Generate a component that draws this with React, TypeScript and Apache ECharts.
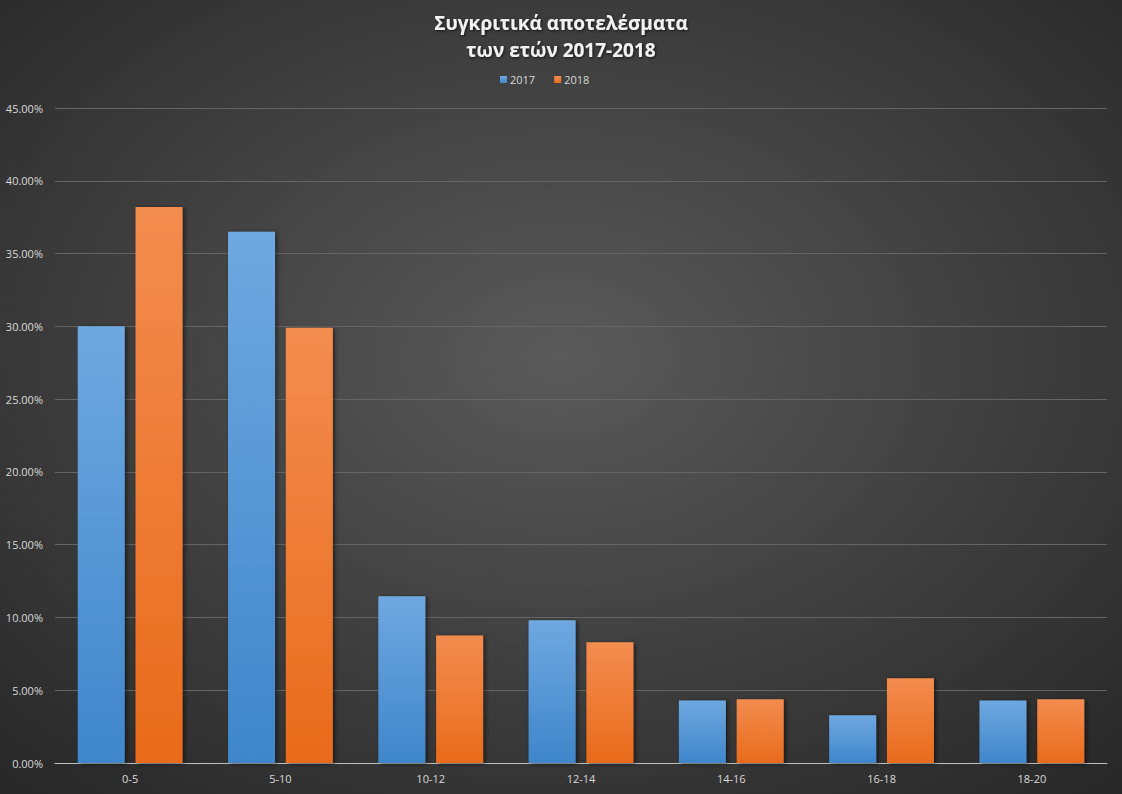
import React, { useEffect, useRef } from "react";
import * as echarts from "echarts";

const categories = ["0-5", "5-10", "10-12", "12-14", "14-16", "16-18", "18-20"];
const series2017 = [30.0, 36.5, 11.45, 9.8, 4.3, 3.28, 4.3];
const series2018 = [38.2, 29.9, 8.76, 8.3, 4.38, 5.82, 4.38];
const yTicks = { min: 0, max: 45, interval: 5 };

const FONT = "'Open Sans', 'Noto Sans', sans-serif";

export default function App() {
  const ref = useRef<HTMLDivElement>(null);
  useEffect(() => {
    if (!ref.current) return;
    const chart = echarts.init(ref.current, undefined, { renderer: "svg" });
    const barShadow = {
      shadowColor: "rgba(0,0,0,0.55)",
      shadowBlur: 4,
      shadowOffsetX: 2,
      shadowOffsetY: 1,
    };
    chart.setOption({
      animation: false,
      backgroundColor: {
        type: "radial",
        x: 0.5,
        y: 0.45,
        r: 0.75,
        colorStops: [
          { offset: 0, color: "#5a5a5a" },
          { offset: 1, color: "#262626" },
        ],
      },
      title: {
        text: "Συγκριτικά αποτελέσματα\nτων ετών 2017-2018",
        left: "center",
        top: 4,
        textStyle: {
          fontFamily: FONT,
          fontSize: 19,
          fontWeight: "bold",
          color: "#f2f2f2",
          lineHeight: 27,
          textShadowColor: "rgba(0,0,0,0.7)",
          textShadowBlur: 3,
          textShadowOffsetX: 1,
          textShadowOffsetY: 1,
        },
      },
      legend: {
        top: 69,
        left: 495,
        itemWidth: 7,
        itemHeight: 7,
        itemGap: 19,
        icon: "rect",
        textStyle: { color: "#d9d9d9", fontSize: 11, fontFamily: FONT, padding: [0, 0, 0, -2] },
        data: ["2017", "2018"],
      },
      grid: { left: 55, right: 15, top: 108, bottom: 31, containLabel: false },
      xAxis: {
        type: "category",
        data: categories,
        axisTick: { show: false },
        axisLine: { lineStyle: { color: "#bfbfbf", width: 1 } },
        axisLabel: { color: "#d9d9d9", fontSize: 11, fontFamily: FONT, margin: 10 },
      },
      yAxis: {
        type: "value",
        min: yTicks.min,
        max: yTicks.max,
        interval: yTicks.interval,
        axisLine: { show: false },
        axisTick: { show: false },
        splitLine: { lineStyle: { color: "#656565", width: 1 } },
        axisLabel: {
          color: "#d9d9d9",
          fontSize: 11,
          fontFamily: FONT,
          margin: 12,
          formatter: (v: number) => v.toFixed(2) + "%",
        },
      },
      series: [
        {
          name: "2017",
          type: "bar",
          data: series2017,
          barWidth: 47,
          barGap: "23%",
          itemStyle: {
            color: {
              type: "linear",
              x: 0,
              y: 0,
              x2: 0,
              y2: 1,
              colorStops: [
                { offset: 0, color: "#6fa8e0" },
                { offset: 1, color: "#3f86cb" },
              ],
            },
            ...barShadow,
          },
        },
        {
          name: "2018",
          type: "bar",
          data: series2018,
          barWidth: 47,
          barGap: "23%",
          itemStyle: {
            color: {
              type: "linear",
              x: 0,
              y: 0,
              x2: 0,
              y2: 1,
              colorStops: [
                { offset: 0, color: "#f38c50" },
                { offset: 1, color: "#e86b1b" },
              ],
            },
            ...barShadow,
          },
        },
      ],
    });
    return () => chart.dispose();
  }, []);
  return (
    <div
      ref={ref}
      style={{ position: "absolute", left: 0, top: 0, width: 1122, height: 794 }}
    />
  );
}
